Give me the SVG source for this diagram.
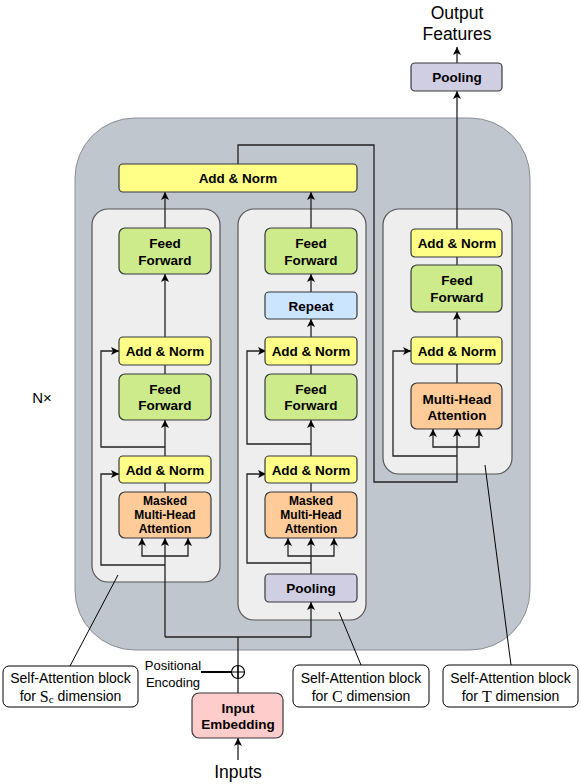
<svg xmlns="http://www.w3.org/2000/svg" width="581" height="784" viewBox="0 0 581 784">
<defs>
<marker id="arr" markerWidth="8" markerHeight="8" refX="8" refY="4" orient="auto" markerUnits="userSpaceOnUse">
<path d="M0,0 L8,4 L0,8 L2,4 z" fill="#000"/>
</marker>
<style>
.bg{fill:#c0c6ce;stroke:#8a8f96;stroke-width:1}
.panel{fill:#eeeeee;stroke:#555;stroke-width:1.2}
.box{stroke:#36393d;stroke-width:1.2}
.yel{fill:#ffff88}
.grn{fill:#cdeb8b}
.org{fill:#ffcc99}
.blu{fill:#cce5ff}
.pur{fill:#d0cee2}
.pnk{fill:#ffcccc}
.lbl{fill:#fff;stroke:#000;stroke-width:1}
.t{font-family:"Liberation Sans",Arial,sans-serif;font-weight:bold;font-size:13.5px;fill:#000;text-anchor:middle;dominant-baseline:central}
.ts{font-size:12px}
.r{font-family:"Liberation Sans",Arial,sans-serif;font-size:14px;fill:#000;text-anchor:middle;dominant-baseline:central}
.m{font-family:"Liberation Serif","Times New Roman",serif}
.c{fill:none;stroke:#222;stroke-width:1.3}
.a{marker-end:url(#arr)}
.ld{fill:none;stroke:#000;stroke-width:1}
</style>
</defs>

<rect class="bg" x="75" y="118" width="455" height="532" rx="60"/>
<text x="42" y="397" font-family="Liberation Sans,Arial,sans-serif" font-size="15" text-anchor="middle" dominant-baseline="central">N×</text>

<g id="panel-sc"><rect class="panel" x="92" y="209" width="128" height="373" rx="16"/></g>
<g id="panel-c"><rect class="panel" x="238" y="209" width="128" height="411" rx="16"/></g>
<g id="panel-t"><rect class="panel" x="383" y="209" width="129" height="265" rx="16"/></g>

<g id="connectors">
<!-- left column -->
<path class="c a" d="M165,637 V538"/>
<path class="c a" d="M165,556 H142 V538"/>
<path class="c a" d="M165,556 H188 V538"/>
<path class="c a" d="M165,565 H101 V474 H119"/>
<path class="c" d="M165,492 V483"/>
<path class="c a" d="M165,456 V420"/>
<path class="c a" d="M165,447 H101 V351 H119"/>
<path class="c" d="M165,374 V365"/>
<path class="c a" d="M165,337 V274"/>
<path class="c a" d="M165,228 V192"/>
<!-- middle column -->
<path class="c a" d="M311,574 V538"/>
<path class="c a" d="M311,556 H288 V538"/>
<path class="c a" d="M311,556 H334 V538"/>
<path class="c a" d="M311,563 H247 V474 H266"/>
<path class="c" d="M311,492 V483"/>
<path class="c a" d="M311,456 V420"/>
<path class="c a" d="M311,444 H247 V351 H266"/>
<path class="c" d="M311,374 V365"/>
<path class="c a" d="M311,337 V319"/>
<path class="c a" d="M311,292 V274"/>
<path class="c a" d="M311,228 V192"/>
<!-- input distribution -->
<path class="c" d="M238,693 V637"/>
<path class="c" d="M165,637 H311"/>
<path class="c a" d="M311,637 V602"/>
<path class="c a" d="M238,760 V738"/>
<path d="M201,672 H232" fill="none" stroke="#000" stroke-width="2"/>
<circle cx="238" cy="672" r="6.5" fill="none" stroke="#000" stroke-width="1.2"/>
<path d="M231.5,672 H244.5 M238,665.5 V678.5" stroke="#000" stroke-width="1.2"/>
<!-- to right column -->
<path class="c a" d="M238,164 V145 H374 V482 H457 V429"/>
<path class="c a" d="M457,447 H433 V429"/>
<path class="c a" d="M457,447 H479 V429"/>
<path class="c a" d="M457,456 H393 V351 H411"/>
<path class="c" d="M457,383 V364"/>
<path class="c a" d="M457,337 V312"/>
<path class="c" d="M457,265 V257"/>
<path class="c a" d="M457,229 V91"/>
<path class="c a" d="M457,63 V47"/>
<!-- leaders -->
<path class="ld" d="M118,575 L70,666"/>
<path class="ld" d="M339,612 L361,665"/>
<path class="ld" d="M485,465 L511,665"/>
</g>

<g id="add-norm-top"><rect class="box yel" x="119" y="164" width="238" height="28" rx="4"/><text class="t" x="238" y="178">Add &amp; Norm</text></g>

<g id="sc-ff2"><rect class="box grn" x="119" y="228" width="92" height="46" rx="6"/><text class="t" x="165" y="243">Feed</text><text class="t" x="165" y="260">Forward</text></g>
<g id="sc-an2"><rect class="box yel" x="119" y="337" width="92" height="28" rx="4"/><text class="t" x="165" y="351">Add &amp; Norm</text></g>
<g id="sc-ff1"><rect class="box grn" x="119" y="374" width="92" height="46" rx="6"/><text class="t" x="165" y="389">Feed</text><text class="t" x="165" y="405">Forward</text></g>
<g id="sc-an1"><rect class="box yel" x="119" y="456" width="92" height="27" rx="4"/><text class="t" x="165" y="470">Add &amp; Norm</text></g>
<g id="sc-mha"><rect class="box org" x="119" y="492" width="92" height="46" rx="6"/><text class="t ts" x="165" y="501">Masked</text><text class="t ts" x="165" y="515">Multi-Head</text><text class="t ts" x="165" y="529">Attention</text></g>

<g id="c-ff2"><rect class="box grn" x="265" y="228" width="92" height="46" rx="6"/><text class="t" x="311" y="243">Feed</text><text class="t" x="311" y="260">Forward</text></g>
<g id="c-repeat"><rect class="box blu" x="265" y="292" width="92" height="27" rx="4"/><text class="t" x="311" y="306">Repeat</text></g>
<g id="c-an2"><rect class="box yel" x="265" y="337" width="92" height="28" rx="4"/><text class="t" x="311" y="351">Add &amp; Norm</text></g>
<g id="c-ff1"><rect class="box grn" x="265" y="374" width="92" height="46" rx="6"/><text class="t" x="311" y="389">Feed</text><text class="t" x="311" y="405">Forward</text></g>
<g id="c-an1"><rect class="box yel" x="265" y="456" width="92" height="27" rx="4"/><text class="t" x="311" y="470">Add &amp; Norm</text></g>
<g id="c-mha"><rect class="box org" x="265" y="492" width="92" height="46" rx="6"/><text class="t ts" x="311" y="501">Masked</text><text class="t ts" x="311" y="515">Multi-Head</text><text class="t ts" x="311" y="529">Attention</text></g>
<g id="c-pool"><rect class="box pur" x="265" y="574" width="92" height="28" rx="4"/><text class="t" x="311" y="588">Pooling</text></g>

<g id="t-an2"><rect class="box yel" x="411" y="229" width="91" height="28" rx="4"/><text class="t" x="457" y="243">Add &amp; Norm</text></g>
<g id="t-ff"><rect class="box grn" x="411" y="265" width="91" height="47" rx="6"/><text class="t" x="457" y="280">Feed</text><text class="t" x="457" y="297">Forward</text></g>
<g id="t-an1"><rect class="box yel" x="411" y="337" width="91" height="27" rx="4"/><text class="t" x="457" y="351">Add &amp; Norm</text></g>
<g id="t-mha"><rect class="box org" x="411" y="383" width="91" height="46" rx="6"/><text class="t" x="457" y="399">Multi-Head</text><text class="t" x="457" y="415">Attention</text></g>

<g id="out-pool"><rect class="box pur" x="411" y="63" width="91" height="28" rx="4"/><text class="t" x="457" y="77">Pooling</text></g>
<g id="output"><text class="r" x="457" y="13" style="font-size:17.5px">Output</text><text class="r" x="457" y="34" style="font-size:17.5px">Features</text></g>

<g id="input-emb"><rect class="box pnk" x="192" y="693" width="91" height="45" rx="7"/><text class="t" x="238" y="708">Input</text><text class="t" x="238" y="724">Embedding</text></g>
<g id="inputs"><text class="r" x="238" y="772" style="font-size:17.5px">Inputs</text></g>
<g id="pos-enc"><text class="r" x="173" y="665" style="font-size:13px">Positional</text><text class="r" x="173" y="682" style="font-size:13px">Encoding</text></g>

<g id="label-sc"><rect class="lbl" x="3" y="666" width="135" height="41" rx="6"/><text class="r" x="70.5" y="678">Self-Attention block</text><text class="r" x="70.5" y="696">for <tspan class="m" font-size="16">S</tspan><tspan class="m" font-size="11" dy="3">c</tspan><tspan dy="-3"> dimension</tspan></text></g>
<g id="label-c"><rect class="lbl" x="293" y="665" width="136" height="42" rx="6"/><text class="r" x="361" y="678">Self-Attention block</text><text class="r" x="361" y="696">for <tspan class="m" font-size="16">C</tspan> dimension</text></g>
<g id="label-t"><rect class="lbl" x="443" y="665" width="135" height="42" rx="6"/><text class="r" x="510.5" y="678">Self-Attention block</text><text class="r" x="510.5" y="696">for <tspan class="m" font-size="16">T</tspan> dimension</text></g>
</svg>
